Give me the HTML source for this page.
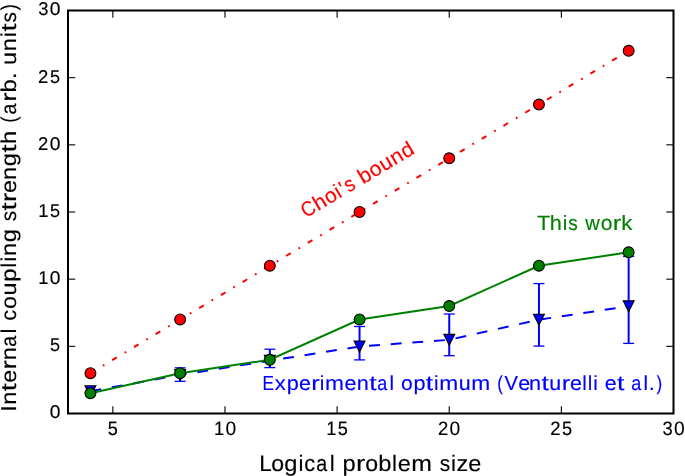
<!DOCTYPE html>
<html><head><meta charset="utf-8"><style>
html,body{margin:0;padding:0;background:#fff;}
svg{display:block;will-change:transform;}
text{font-family:"Liberation Sans",sans-serif;text-rendering:geometricPrecision;}
</style></head><body>
<svg width="685" height="476" viewBox="0 0 685 476">
<rect width="685" height="476" fill="#fff"/>
<polyline points="90.43,373.20 180.13,319.47 269.83,265.73 359.54,212.00 449.24,158.27 538.94,104.53 628.65,50.80" fill="none" stroke="#ff0000" stroke-width="2.0" stroke-dasharray="5.43 9.05 1.81 9.05"/>
<circle cx="90.43" cy="373.20" r="5.43" fill="#ff0000" stroke="#000" stroke-width="1.1"/>
<circle cx="180.13" cy="319.47" r="5.43" fill="#ff0000" stroke="#000" stroke-width="1.1"/>
<circle cx="269.83" cy="265.73" r="5.43" fill="#ff0000" stroke="#000" stroke-width="1.1"/>
<circle cx="359.54" cy="212.00" r="5.43" fill="#ff0000" stroke="#000" stroke-width="1.1"/>
<circle cx="449.24" cy="158.27" r="5.43" fill="#ff0000" stroke="#000" stroke-width="1.1"/>
<circle cx="538.94" cy="104.53" r="5.43" fill="#ff0000" stroke="#000" stroke-width="1.1"/>
<circle cx="628.65" cy="50.80" r="5.43" fill="#ff0000" stroke="#000" stroke-width="1.1"/>
<line x1="180.13" y1="367.85" x2="180.13" y2="381.30" stroke="#0000ff" stroke-width="2.0"/>
<line x1="174.63" y1="367.85" x2="185.63" y2="367.85" stroke="#0000ff" stroke-width="1.3"/>
<line x1="174.63" y1="381.30" x2="185.63" y2="381.30" stroke="#0000ff" stroke-width="1.3"/>
<line x1="269.83" y1="349.20" x2="269.83" y2="367.60" stroke="#0000ff" stroke-width="2.0"/>
<line x1="264.33" y1="349.20" x2="275.33" y2="349.20" stroke="#0000ff" stroke-width="1.3"/>
<line x1="264.33" y1="367.60" x2="275.33" y2="367.60" stroke="#0000ff" stroke-width="1.3"/>
<line x1="359.54" y1="326.50" x2="359.54" y2="359.90" stroke="#0000ff" stroke-width="2.0"/>
<line x1="354.04" y1="326.50" x2="365.04" y2="326.50" stroke="#0000ff" stroke-width="1.3"/>
<line x1="354.04" y1="359.90" x2="365.04" y2="359.90" stroke="#0000ff" stroke-width="1.3"/>
<line x1="449.24" y1="314.00" x2="449.24" y2="355.70" stroke="#0000ff" stroke-width="2.0"/>
<line x1="443.74" y1="314.00" x2="454.74" y2="314.00" stroke="#0000ff" stroke-width="1.3"/>
<line x1="443.74" y1="355.70" x2="454.74" y2="355.70" stroke="#0000ff" stroke-width="1.3"/>
<line x1="538.94" y1="283.60" x2="538.94" y2="346.10" stroke="#0000ff" stroke-width="2.0"/>
<line x1="533.44" y1="283.60" x2="544.44" y2="283.60" stroke="#0000ff" stroke-width="1.3"/>
<line x1="533.44" y1="346.10" x2="544.44" y2="346.10" stroke="#0000ff" stroke-width="1.3"/>
<line x1="628.65" y1="256.40" x2="628.65" y2="343.40" stroke="#0000ff" stroke-width="2.0"/>
<line x1="623.15" y1="256.40" x2="634.15" y2="256.40" stroke="#0000ff" stroke-width="1.3"/>
<line x1="623.15" y1="343.40" x2="634.15" y2="343.40" stroke="#0000ff" stroke-width="1.3"/>
<polyline points="90.43,391.20 180.13,374.90 269.83,360.70 359.54,346.50 449.24,339.80 538.94,319.70 628.65,306.30" fill="none" stroke="#0000ff" stroke-width="2.0" stroke-dasharray="10.86 10.86"/>
<path d="M90.43,396.63 L85.00,385.77 L95.86,385.77 Z" fill="#0000ff" stroke="#000" stroke-width="1.1"/>
<path d="M180.13,380.33 L174.70,369.47 L185.56,369.47 Z" fill="#0000ff" stroke="#000" stroke-width="1.1"/>
<path d="M269.83,366.13 L264.40,355.27 L275.26,355.27 Z" fill="#0000ff" stroke="#000" stroke-width="1.1"/>
<path d="M359.54,351.93 L354.11,341.07 L364.97,341.07 Z" fill="#0000ff" stroke="#000" stroke-width="1.1"/>
<path d="M449.24,345.23 L443.81,334.37 L454.67,334.37 Z" fill="#0000ff" stroke="#000" stroke-width="1.1"/>
<path d="M538.94,325.13 L533.51,314.27 L544.37,314.27 Z" fill="#0000ff" stroke="#000" stroke-width="1.1"/>
<path d="M628.65,311.73 L623.22,300.87 L634.08,300.87 Z" fill="#0000ff" stroke="#000" stroke-width="1.1"/>
<polyline points="90.43,393.35 180.13,373.20 269.83,359.77 359.54,319.47 449.24,306.03 538.94,265.73 628.65,252.30" fill="none" stroke="#008000" stroke-width="2.0"/>
<circle cx="90.43" cy="393.35" r="5.43" fill="#008000" stroke="#000" stroke-width="1.1"/>
<circle cx="180.13" cy="373.20" r="5.43" fill="#008000" stroke="#000" stroke-width="1.1"/>
<circle cx="269.83" cy="359.77" r="5.43" fill="#008000" stroke="#000" stroke-width="1.1"/>
<circle cx="359.54" cy="319.47" r="5.43" fill="#008000" stroke="#000" stroke-width="1.1"/>
<circle cx="449.24" cy="306.03" r="5.43" fill="#008000" stroke="#000" stroke-width="1.1"/>
<circle cx="538.94" cy="265.73" r="5.43" fill="#008000" stroke="#000" stroke-width="1.1"/>
<circle cx="628.65" cy="252.30" r="5.43" fill="#008000" stroke="#000" stroke-width="1.1"/>
<rect x="68.0" y="10.5" width="605.50" height="403.00" fill="none" stroke="#000" stroke-width="2.0"/>
<line x1="112.85" y1="413.5" x2="112.85" y2="406.3" stroke="#000" stroke-width="1.1"/>
<line x1="112.85" y1="10.5" x2="112.85" y2="17.7" stroke="#000" stroke-width="1.1"/>
<line x1="224.98" y1="413.5" x2="224.98" y2="406.3" stroke="#000" stroke-width="1.1"/>
<line x1="224.98" y1="10.5" x2="224.98" y2="17.7" stroke="#000" stroke-width="1.1"/>
<line x1="337.11" y1="413.5" x2="337.11" y2="406.3" stroke="#000" stroke-width="1.1"/>
<line x1="337.11" y1="10.5" x2="337.11" y2="17.7" stroke="#000" stroke-width="1.1"/>
<line x1="449.24" y1="413.5" x2="449.24" y2="406.3" stroke="#000" stroke-width="1.1"/>
<line x1="449.24" y1="10.5" x2="449.24" y2="17.7" stroke="#000" stroke-width="1.1"/>
<line x1="561.37" y1="413.5" x2="561.37" y2="406.3" stroke="#000" stroke-width="1.1"/>
<line x1="561.37" y1="10.5" x2="561.37" y2="17.7" stroke="#000" stroke-width="1.1"/>
<line x1="673.50" y1="413.5" x2="673.50" y2="406.3" stroke="#000" stroke-width="1.1"/>
<line x1="673.50" y1="10.5" x2="673.50" y2="17.7" stroke="#000" stroke-width="1.1"/>
<line x1="68.0" y1="413.50" x2="75.2" y2="413.50" stroke="#000" stroke-width="1.1"/>
<line x1="673.5" y1="413.50" x2="666.3" y2="413.50" stroke="#000" stroke-width="1.1"/>
<line x1="68.0" y1="346.33" x2="75.2" y2="346.33" stroke="#000" stroke-width="1.1"/>
<line x1="673.5" y1="346.33" x2="666.3" y2="346.33" stroke="#000" stroke-width="1.1"/>
<line x1="68.0" y1="279.17" x2="75.2" y2="279.17" stroke="#000" stroke-width="1.1"/>
<line x1="673.5" y1="279.17" x2="666.3" y2="279.17" stroke="#000" stroke-width="1.1"/>
<line x1="68.0" y1="212.00" x2="75.2" y2="212.00" stroke="#000" stroke-width="1.1"/>
<line x1="673.5" y1="212.00" x2="666.3" y2="212.00" stroke="#000" stroke-width="1.1"/>
<line x1="68.0" y1="144.83" x2="75.2" y2="144.83" stroke="#000" stroke-width="1.1"/>
<line x1="673.5" y1="144.83" x2="666.3" y2="144.83" stroke="#000" stroke-width="1.1"/>
<line x1="68.0" y1="77.67" x2="75.2" y2="77.67" stroke="#000" stroke-width="1.1"/>
<line x1="673.5" y1="77.67" x2="666.3" y2="77.67" stroke="#000" stroke-width="1.1"/>
<line x1="68.0" y1="10.50" x2="75.2" y2="10.50" stroke="#000" stroke-width="1.1"/>
<line x1="673.5" y1="10.50" x2="666.3" y2="10.50" stroke="#000" stroke-width="1.1"/>
<g transform="translate(0,435.00)" font-size="19.42" fill="#000" stroke="#000" stroke-width="0.15"><text transform="scale(0.9322,1)" x="115.58" y="0">5</text></g>
<g transform="translate(0,435.00)" font-size="19.42" fill="#000" stroke="#000" stroke-width="0.15"><text transform="scale(0.9426,1)" x="227.07" y="0">1</text><text transform="scale(0.9911,1)" x="227.41" y="0">0</text></g>
<g transform="translate(0,435.00)" font-size="19.42" fill="#000" stroke="#000" stroke-width="0.15"><text transform="scale(0.9426,1)" x="346.03" y="0">1</text><text transform="scale(0.9322,1)" x="362.35" y="0">5</text></g>
<g transform="translate(0,435.00)" font-size="19.42" fill="#000" stroke="#000" stroke-width="0.15"><text transform="scale(0.9526,1)" x="459.85" y="0">2</text><text transform="scale(0.9911,1)" x="453.67" y="0">0</text></g>
<g transform="translate(0,435.00)" font-size="19.42" fill="#000" stroke="#000" stroke-width="0.15"><text transform="scale(0.9526,1)" x="577.55" y="0">2</text><text transform="scale(0.9322,1)" x="602.92" y="0">5</text></g>
<g transform="translate(0,435.00)" font-size="19.42" fill="#000" stroke="#000" stroke-width="0.15"><text transform="scale(0.9470,1)" x="699.66" y="0">3</text><text transform="scale(0.9911,1)" x="679.94" y="0">0</text></g>
<g transform="translate(0,418.35)" font-size="18.55" fill="#000" stroke="#000" stroke-width="0.15"><text transform="scale(1.0376,1)" x="47.83" y="0">0</text></g>
<g transform="translate(0,351.18)" font-size="18.55" fill="#000" stroke="#000" stroke-width="0.15"><text transform="scale(0.9759,1)" x="51.14" y="0">5</text></g>
<g transform="translate(0,284.02)" font-size="18.55" fill="#000" stroke="#000" stroke-width="0.15"><text transform="scale(0.9868,1)" x="38.78" y="0">1</text><text transform="scale(1.0376,1)" x="47.83" y="0">0</text></g>
<g transform="translate(0,216.85)" font-size="18.55" fill="#000" stroke="#000" stroke-width="0.15"><text transform="scale(0.9868,1)" x="38.78" y="0">1</text><text transform="scale(0.9759,1)" x="51.14" y="0">5</text></g>
<g transform="translate(0,149.68)" font-size="18.55" fill="#000" stroke="#000" stroke-width="0.15"><text transform="scale(0.9973,1)" x="38.14" y="0">2</text><text transform="scale(1.0376,1)" x="47.83" y="0">0</text></g>
<g transform="translate(0,82.52)" font-size="18.55" fill="#000" stroke="#000" stroke-width="0.15"><text transform="scale(0.9973,1)" x="38.14" y="0">2</text><text transform="scale(0.9759,1)" x="51.14" y="0">5</text></g>
<g transform="translate(0,15.35)" font-size="18.55" fill="#000" stroke="#000" stroke-width="0.15"><text transform="scale(0.9914,1)" x="38.65" y="0">3</text><text transform="scale(1.0376,1)" x="47.83" y="0">0</text></g>
<g transform="translate(0,471.00)" font-size="22.46" fill="#000" stroke="#000" stroke-width="0.15"><text transform="scale(1.0022,1)" x="258.68" y="0">L</text><text transform="scale(1.0307,1)" x="263.25" y="0">o</text><text transform="scale(1.0553,1)" x="269.34" y="0">g</text><text transform="scale(0.9968,1)" x="299.36" y="0">i</text><text transform="scale(0.9748,1)" x="312.04" y="0">c</text><text transform="scale(0.8746,1)" x="361.70" y="0">a</text><text transform="scale(0.9968,1)" x="330.81" y="0">l</text><text transform="scale(1.0553,1)" x="324.64" y="0">p</text><text transform="scale(1.2405,1)" x="287.03" y="0">r</text><text transform="scale(1.0307,1)" x="354.28" y="0">o</text><text transform="scale(1.0553,1)" x="358.38" y="0">b</text><text transform="scale(0.9968,1)" x="393.39" y="0">l</text><text transform="scale(1.0465,1)" x="380.17" y="0">e</text><text transform="scale(1.1076,1)" x="371.35" y="0">m</text><text transform="scale(0.9248,1)" x="475.51" y="0">s</text><text transform="scale(0.9968,1)" x="452.47" y="0">i</text><text transform="scale(1.0400,1)" x="438.94" y="0">z</text><text transform="scale(1.0465,1)" x="447.36" y="0">e</text></g>
<g transform="translate(0,230.00)" font-size="20.71" fill="#008000" stroke="#008000" stroke-width="0.15"><text transform="scale(1.0476,1)" x="512.51" y="0">T</text><text transform="scale(1.0498,1)" x="523.74" y="0">h</text><text transform="scale(0.9859,1)" x="570.70" y="0">i</text><text transform="scale(0.9147,1)" x="621.22" y="0">s</text><text transform="scale(0.9685,1)" x="604.23" y="0">w</text><text transform="scale(1.0194,1)" x="589.33" y="0">o</text><text transform="scale(1.2269,1)" x="499.45" y="0">r</text><text transform="scale(1.0749,1)" x="577.88" y="0">k</text></g>
<g transform="translate(0,390.00)" font-size="20.35" fill="#0000ff" stroke="#0000ff" stroke-width="0.15"><text transform="scale(0.8465,1)" x="310.08" y="0">E</text><text transform="scale(1.0851,1)" x="253.30" y="0">x</text><text transform="scale(1.0639,1)" x="269.45" y="0">p</text><text transform="scale(1.0550,1)" x="283.49" y="0">e</text><text transform="scale(1.2507,1)" x="248.84" y="0">r</text><text transform="scale(1.0050,1)" x="318.24" y="0">i</text><text transform="scale(1.1167,1)" x="291.13" y="0">m</text><text transform="scale(1.0550,1)" x="326.43" y="0">e</text><text transform="scale(1.0638,1)" x="335.37" y="0">n</text><text transform="scale(1.3028,1)" x="283.39" y="0">t</text><text transform="scale(0.8818,1)" x="427.86" y="0">a</text><text transform="scale(1.0050,1)" x="387.60" y="0">l</text><text transform="scale(1.0391,1)" x="385.97" y="0">o</text><text transform="scale(1.0639,1)" x="388.58" y="0">p</text><text transform="scale(1.3028,1)" x="326.85" y="0">t</text><text transform="scale(1.0050,1)" x="431.80" y="0">i</text><text transform="scale(1.1167,1)" x="393.34" y="0">m</text><text transform="scale(1.0518,1)" x="436.06" y="0">u</text><text transform="scale(1.1167,1)" x="421.97" y="0">m</text><text transform="scale(0.8375,1)" x="593.74" y="0">(</text><text transform="scale(0.9919,1)" x="508.54" y="0">V</text><text transform="scale(1.0550,1)" x="491.14" y="0">e</text><text transform="scale(1.0638,1)" x="497.28" y="0">n</text><text transform="scale(1.3028,1)" x="415.60" y="0">t</text><text transform="scale(1.0518,1)" x="522.32" y="0">u</text><text transform="scale(1.2507,1)" x="449.16" y="0">r</text><text transform="scale(1.0550,1)" x="540.30" y="0">e</text><text transform="scale(1.0050,1)" x="579.27" y="0">l</text><text transform="scale(1.0050,1)" x="584.76" y="0">l</text><text transform="scale(1.0050,1)" x="590.26" y="0">i</text><text transform="scale(1.0550,1)" x="573.18" y="0">e</text><text transform="scale(1.3028,1)" x="473.55" y="0">t</text><text transform="scale(0.8818,1)" x="715.99" y="0">a</text><text transform="scale(1.0050,1)" x="640.39" y="0">l</text><text transform="scale(1.0542,1)" x="615.39" y="0">.</text><text transform="scale(0.8375,1)" x="783.75" y="0">)</text></g>
<g transform="translate(16.3,409.8) rotate(-90) translate(0,0.00)" font-size="21.44" fill="#000" stroke="#000" stroke-width="0.15"><text transform="scale(1.0943,1)" x="-1.71" y="0">I</text><text transform="scale(1.1021,1)" x="4.48" y="0">n</text><text transform="scale(1.3497,1)" x="13.71" y="0">t</text><text transform="scale(1.0930,1)" x="24.74" y="0">e</text><text transform="scale(1.2957,1)" x="31.09" y="0">r</text><text transform="scale(1.1021,1)" x="44.90" y="0">n</text><text transform="scale(0.9135,1)" x="68.93" y="0">a</text><text transform="scale(1.0412,1)" x="73.33" y="0">l</text><text transform="scale(1.0182,1)" x="87.40" y="0">c</text><text transform="scale(1.0765,1)" x="93.70" y="0">o</text><text transform="scale(1.0897,1)" x="104.86" y="0">u</text><text transform="scale(1.1022,1)" x="116.22" y="0">p</text><text transform="scale(1.0412,1)" x="136.40" y="0">l</text><text transform="scale(1.0412,1)" x="142.19" y="0">i</text><text transform="scale(1.1021,1)" x="139.62" y="0">n</text><text transform="scale(1.1022,1)" x="151.93" y="0">g</text><text transform="scale(0.9660,1)" x="195.22" y="0">s</text><text transform="scale(1.3497,1)" x="147.75" y="0">t</text><text transform="scale(1.2957,1)" x="160.41" y="0">r</text><text transform="scale(1.0930,1)" x="198.43" y="0">e</text><text transform="scale(1.1021,1)" x="208.62" y="0">n</text><text transform="scale(1.1022,1)" x="220.92" y="0">g</text><text transform="scale(1.3497,1)" x="190.61" y="0">t</text><text transform="scale(1.1087,1)" x="239.83" y="0">h</text><text transform="scale(0.8677,1)" x="330.71" y="0">(</text><text transform="scale(0.9135,1)" x="323.15" y="0">a</text><text transform="scale(1.2957,1)" x="237.79" y="0">r</text><text transform="scale(1.1022,1)" x="287.93" y="0">b</text><text transform="scale(1.0922,1)" x="302.96" y="0">.</text><text transform="scale(1.0897,1)" x="316.47" y="0">u</text><text transform="scale(1.1021,1)" x="325.41" y="0">n</text><text transform="scale(1.0412,1)" x="357.85" y="0">i</text><text transform="scale(1.3497,1)" x="280.23" y="0">t</text><text transform="scale(0.9660,1)" x="400.83" y="0">s</text><text transform="scale(0.8677,1)" x="460.40" y="0">)</text></g>
<g transform="translate(306.6,218.0) rotate(-30.8) translate(0,0.00)" font-size="21.08" fill="#ff0000" stroke="#ff0000" stroke-width="0.15"><text transform="scale(0.8768,1)" x="-0.83" y="0">C</text><text transform="scale(1.0295,1)" x="12.83" y="0">h</text><text transform="scale(0.9997,1)" x="25.70" y="0">o</text><text transform="scale(0.9668,1)" x="39.43" y="0">i</text><text transform="scale(0.8878,1)" x="49.64" y="0">&#39;</text><text transform="scale(0.8970,1)" x="54.78" y="0">s</text><text transform="scale(1.0235,1)" x="64.06" y="0">b</text><text transform="scale(0.9997,1)" x="77.99" y="0">o</text><text transform="scale(1.0119,1)" x="89.13" y="0">u</text><text transform="scale(1.0234,1)" x="100.42" y="0">n</text><text transform="scale(1.0235,1)" x="112.52" y="0">d</text></g>
</svg></body></html>
